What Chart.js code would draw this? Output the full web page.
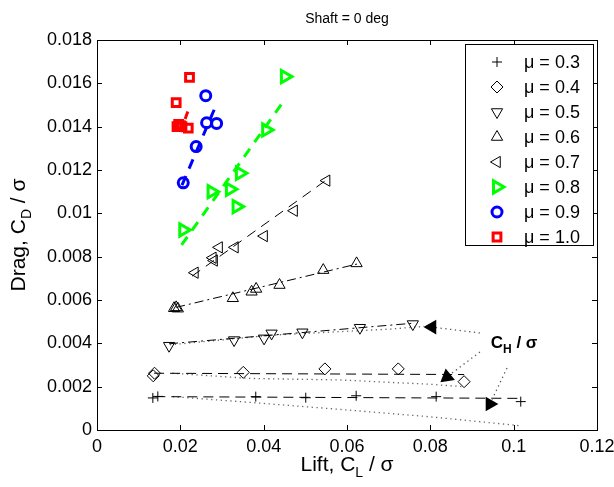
<!DOCTYPE html>
<html><head><meta charset="utf-8">
<script src="https://cdn.jsdelivr.net/npm/chart.js@4/dist/chart.umd.min.js"></script>
<style>html,body{margin:0;padding:0;background:#fff}#wrap{width:614px;height:487px}</style>
</head><body><div id="wrap"><canvas id="c" width="614" height="487"></canvas></div>
<script>
// ---------- data ----------
const seriesLabels = ['μ = 0.3','μ = 0.4','μ = 0.5','μ = 0.6','μ = 0.7','μ = 0.8','μ = 0.9','μ = 1.0'];
const xTicks = [0,0.02,0.04,0.06,0.08,0.1,0.12];
const yTicks = [0,0.002,0.004,0.006,0.008,0.01,0.012,0.014,0.016,0.018];

const mu03X = [0.0134,0.0146,0.0381,0.0501,0.0622,0.0814,0.1017];
const mu03Y = [0.00148,0.00155,0.00154,0.00149,0.00158,0.00154,0.00131];
const mu04X = [0.0135,0.0138,0.0351,0.0547,0.0723,0.0881];
const mu04Y = [0.00250,0.00262,0.00266,0.00282,0.00282,0.00223];
const mu05X = [0.0173,0.0329,0.0401,0.0419,0.0493,0.0631,0.0758];
const mu05Y = [0.00389,0.00415,0.00423,0.00446,0.00451,0.00472,0.00489];
const mu06X = [0.0185,0.0190,0.0194,0.0326,0.0371,0.0382,0.0438,0.0543,0.0623];
const mu06Y = [0.00562,0.00566,0.00560,0.00608,0.00638,0.00651,0.00669,0.00738,0.00769];
const mu07X = [0.0235,0.0278,0.0281,0.0293,0.0331,0.0401,0.0473,0.0551];
const mu07Y = [0.00726,0.00795,0.00782,0.00843,0.00843,0.00895,0.01012,0.01151];
const mu08X = [0.0207,0.0275,0.0319,0.0335,0.0343,0.0406,0.0451];
const mu08Y = [0.00923,0.01100,0.01111,0.01031,0.01185,0.01385,0.01631];
const mu09X = [0.0207,0.0238,0.0263,0.0287,0.0261];
const mu09Y = [0.01141,0.01308,0.01418,0.01415,0.01543];
const mu10X = [0.0222,0.0190,0.0192,0.0196,0.0200,0.0204,0.0219];
const mu10Y = [0.01628,0.01511,0.01400,0.01410,0.01405,0.01400,0.01393];

// linear fits (end points)
const fit03X = [0.0140,0.1017], fit03Y = [0.00154,0.00146];
const fit04X = [0.0137,0.0881], fit04Y = [0.00262,0.00256];
const fit05X = [0.0173,0.0760], fit05Y = [0.00398,0.00493];
const fit06X = [0.0190,0.0624], fit06Y = [0.00566,0.00766];
const fit07X = [0.0228,0.0555], fit07Y = [0.00710,0.01160];
const fit08X = [0.0203,0.0447], fit08Y = [0.00854,0.01515];
const fit09X = [0.0204,0.0288], fit09Y = [0.01130,0.01509];
const fit10X = [0.0200,0.0218], fit10Y = [0.01375,0.01470];

// C_H / sigma curves (dotted)
const ch03X = [0.0182,0.0343,0.0571,0.0799,0.1015];
const ch03Y = [0.00154,0.00131,0.00097,0.00061,0.00020];
const ch04X = [0.0181,0.0367,0.0583,0.0799,0.0879];
const ch04Y = [0.00262,0.00238,0.00231,0.00211,0.00200];
const ch05X = [0.0175,0.0422,0.0705,0.0785];
const ch05Y = [0.00393,0.00438,0.00466,0.00478];

// annotation leaders: [start x, arrow x], [start y, arrow y], arrow direction (deg)
const lead1X = [0.0919,0.0804], lead1Y = [0.00448,0.00475], lead1Rot = 270;
const lead2X = [0.0919,0.0840], lead2Y = [0.00360,0.00245], lead2Rot = 231;
const lead3X = [0.0984,0.0943], lead3Y = [0.00286,0.00120], lead3Rot = 90;
const chLabelX = 0.1001, chLabelY = 0.00377;

// ---------- build ----------
const FONT = '"Liberation Sans", Arial, Helvetica, sans-serif';
const zip = (xs, ys) => xs.map((x, i) => ({x, y: ys[i]}));
const seriesX = [mu03X,mu04X,mu05X,mu06X,mu07X,mu08X,mu09X,mu10X];
const seriesY = [mu03Y,mu04Y,mu05Y,mu06Y,mu07Y,mu08Y,mu09Y,mu10Y];
const fitX = [fit03X,fit04X,fit05X,fit06X,fit07X,fit08X,fit09X,fit10X];
const fitY = [fit03Y,fit04Y,fit05Y,fit06Y,fit07Y,fit08Y,fit09Y,fit10Y];

const styles = [
  {color:'#000', style:'cross', rot:0, r:5, bw:1, lw:1, dash:[10,6]},
  {color:'#000', style:'rectRot', rot:0, r:6, bw:1, lw:1, dash:[10,6]},
  {color:'#000', style:'triangle', rot:180, r:6.5, bw:1, lw:1, dash:[9,4,2,4]},
  {color:'#000', style:'triangle', rot:0, r:6.5, bw:1, lw:1, dash:[9,4,2,4]},
  {color:'#000', style:'triangle', rot:270, r:6.5, bw:1, lw:1, dash:[10,7]},
  {color:'#00ff00', style:'triangle', rot:90, r:7, bw:3, lw:3, dash:[10,8]},
  {color:'#0000ff', style:'circle', rot:0, r:5, bw:3, lw:3, dash:[10,8]},
  {color:'#ff0000', style:'rect', rot:0, r:5.5, bw:3, lw:3, dash:[8,6]}
];

const datasets = [];
styles.forEach((s, i) => {
  datasets.push({label: seriesLabels[i], data: zip(seriesX[i], seriesY[i]), showLine:false,
    pointStyle:s.style, pointRotation:s.rot, pointRadius:s.r, pointBorderWidth:s.bw,
    pointBorderColor:s.color, pointBackgroundColor:'rgba(0,0,0,0)', order:1});
  datasets.push({label:'fit', data: zip(fitX[i], fitY[i]), showLine:true, pointRadius:0,
    borderColor:s.color, borderWidth:s.lw, borderDash:s.dash, order:2});
});
[[ch03X,ch03Y],[ch04X,ch04Y],[ch05X,ch05Y]].forEach(([xs,ys]) => {
  datasets.push({label:'ch', data: zip(xs, ys), showLine:true, pointRadius:0,
    borderColor:'#666', borderWidth:1.3, borderDash:[1.3,3.5], order:3});
});
[[lead1X,lead1Y,lead1Rot],[lead2X,lead2Y,lead2Rot],[lead3X,lead3Y,lead3Rot]].forEach(([xs,ys,rot]) => {
  datasets.push({label:'lead', data: zip(xs, ys), showLine:true, borderColor:'#555', borderWidth:1.3,
    borderDash:[1.3,3.5], pointStyle:'triangle', pointRotation:[0,rot], pointRadius:[0,8.5],
    pointBorderWidth:0, pointBackgroundColor:'#000', pointBorderColor:'#000', order:0});
});

function drawRich(ctx, parts, x, y) {
  let total = 0;
  parts.forEach(p => { ctx.font = p.font; total += ctx.measureText(p.t).width; });
  let cx = x - total / 2;
  ctx.textAlign = 'left'; ctx.textBaseline = 'alphabetic';
  parts.forEach(p => { ctx.font = p.font; ctx.fillText(p.t, cx, y + (p.dy || 0)); cx += ctx.measureText(p.t).width; });
}

const decor = {
  id: 'decor',
  afterDatasetsDraw(chart) {
    const ctx = chart.ctx, a = chart.chartArea;
    const xs = chart.scales.x, ys = chart.scales.y;
    ctx.save();
    ctx.fillStyle = '#000';
    ctx.strokeStyle = '#000'; ctx.lineWidth = 1; ctx.setLineDash([]);
    ctx.strokeRect(Math.round(a.left)+0.5, Math.round(a.top)+0.5, Math.round(a.right-a.left), Math.round(a.bottom-a.top));
    const tl = 5;
    ctx.beginPath();
    xTicks.forEach(v => { const px = Math.round(xs.getPixelForValue(v))+0.5;
      ctx.moveTo(px, a.bottom); ctx.lineTo(px, a.bottom - tl);
      ctx.moveTo(px, a.top); ctx.lineTo(px, a.top + tl); });
    yTicks.forEach(v => { const py = Math.round(ys.getPixelForValue(v))+0.5;
      ctx.moveTo(a.left, py); ctx.lineTo(a.left + tl, py);
      ctx.moveTo(a.right, py); ctx.lineTo(a.right - tl, py); });
    ctx.stroke();
    // legend box
    const lx = 465, ly = 44, lw = 128, lh = 201;
    ctx.fillStyle = '#fff'; ctx.fillRect(lx+0.5, ly+0.5, lw, lh);
    ctx.strokeStyle = '#000'; ctx.strokeRect(lx+0.5, ly+0.5, lw, lh);
    styles.forEach((s, i) => {
      const yy = 62 + i * 25;
      ctx.strokeStyle = s.color; ctx.fillStyle = 'rgba(0,0,0,0)'; ctx.lineWidth = s.bw;
      Chart.helpers.drawPoint(ctx, {pointStyle:s.style, rotation:s.rot, radius:s.r, borderWidth:s.bw}, 497, yy);
      ctx.fillStyle = '#000'; ctx.font = '18px ' + FONT; ctx.textAlign = 'left'; ctx.textBaseline = 'middle';
      ctx.fillText(seriesLabels[i], 524, yy + 1);
    });
    ctx.fillStyle = '#000';
    const bx = xs.getPixelForValue(chLabelX), by = ys.getPixelForValue(chLabelY);
    drawRich(ctx, [{t:'C', font:'bold 17px '+FONT},{t:'H', font:'bold 12px '+FONT, dy:5},{t:' / σ', font:'bold 17px '+FONT}], bx, by);
    ctx.restore();
  },
  afterDraw(chart) {
    const ctx = chart.ctx, a = chart.chartArea;
    ctx.save(); ctx.fillStyle = '#000';
    ctx.font = '14px ' + FONT; ctx.textAlign = 'center'; ctx.textBaseline = 'alphabetic';
    ctx.fillText('Shaft = 0 deg', (a.left + a.right) / 2, 23);
    drawRich(ctx, [{t:'Lift, C', font:'21px '+FONT},{t:'L', font:'14px '+FONT, dy:6},{t:' / σ', font:'21px '+FONT}], (a.left + a.right) / 2, 471);
    ctx.translate(25, (a.top + a.bottom) / 2); ctx.rotate(-Math.PI / 2);
    drawRich(ctx, [{t:'Drag, C', font:'21px '+FONT},{t:'D', font:'14px '+FONT, dy:6},{t:' / σ', font:'21px '+FONT}], 0, 0);
    ctx.restore();
  }
};

const fmt = v => String(+(+v).toFixed(4));
new Chart(document.getElementById('c'), {
  type: 'scatter',
  data: {datasets},
  options: {
    responsive: false, animation: false,
    layout: {padding: {top: 40, right: 17, left: 0, bottom: 0}},
    plugins: {legend: {display: false}, tooltip: {enabled: false}},
    scales: {
      x: {type:'linear', min:0, max:0.12, grid:{display:false, drawTicks:false}, border:{display:false},
        afterBuildTicks: s => { s.ticks = xTicks.map(v => ({value: v})); },
        ticks: {font:{family:FONT, size:18}, color:'#000', padding:6, maxRotation:0, autoSkip:false, callback: fmt},
        afterFit: s => { s.height = 57; s.paddingLeft = 0; s.paddingRight = 0; }},
      y: {type:'linear', min:0, max:0.018, grid:{display:false, drawTicks:false}, border:{display:false},
        afterBuildTicks: s => { s.ticks = yTicks.map(v => ({value: v})); },
        ticks: {font:{family:FONT, size:18}, color:'#000', padding:5, autoSkip:false, callback: fmt},
        afterFit: s => { s.width = 97; s.paddingTop = 0; s.paddingBottom = 0; }}
    }
  },
  plugins: [decor]
});
</script></body></html>
